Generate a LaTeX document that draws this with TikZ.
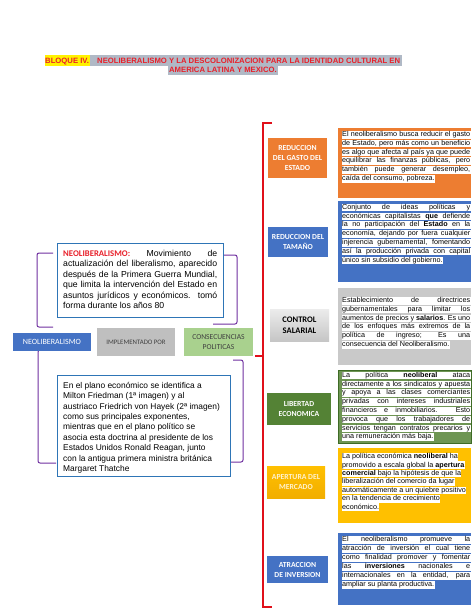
\documentclass[tikz,border=0pt]{standalone}
\usepackage{fontspec}
\setmainfont{Liberation Sans}
\newfontfamily\carlito{Carlito}
\definecolor{orangeC}{HTML}{ED7D31}
\definecolor{blueC}{HTML}{4472C4}
\definecolor{greenD}{HTML}{548235}
\definecolor{greenB}{HTML}{3E6B25}
\definecolor{goldC}{HTML}{FFC000}
\definecolor{goldD}{HTML}{F2AE00}
\definecolor{goldT}{HTML}{FFF2CC}
\definecolor{grayT}{HTML}{C9C9C9}
\definecolor{purpleC}{HTML}{7030A0}
\definecolor{redB}{HTML}{E0101A}
\definecolor{redT}{HTML}{E8202A}
\definecolor{boxBlue}{HTML}{2E75B6}
\definecolor{lgreen}{HTML}{A9D18E}
\definecolor{lgray}{HTML}{BFBFBF}
\definecolor{hlgray}{HTML}{B0B9C6}
\definecolor{darkT}{HTML}{404040}
\newcommand\natsp{\spaceskip=0pt\xspaceskip=0pt\relax}
\newcommand\hlstrut{\rule[-1.7pt]{0pt}{6.4pt}}
\newcommand\jline[1]{\colorbox{white}{\makebox[128pt][s]{\natsp\hlstrut#1}}}
\newcommand\rline[1]{\colorbox{white}{\natsp\hlstrut#1}}
\newcommand\jwide[1]{\makebox[154pt][s]{\natsp#1}}
\setlength\fboxsep{0.3pt}
\lineskiplimit=-5pt
\begin{document}
\begin{tikzpicture}[x=1pt,y=-1pt,
  lbl/.style={inner sep=0pt, align=center, text=white,
    font=\carlito\bfseries\fontsize{7.7}{10}\selectfont},
  tbox/.style={anchor=north west, inner sep=0pt, minimum width=133pt},
  hltext/.style={anchor=north west, inner sep=0pt, text width=129pt, align=left,
    font=\fontsize{7.2}{8.8}\selectfont},
  ttl/.style={inner sep=0pt, text=redT, font=\bfseries\fontsize{7.7}{9}\selectfont},
  pbr/.style={draw=purpleC, line width=1pt, rounded corners=2pt},
  rbr/.style={draw=redB, line width=1.5pt},
  lbox/.style={anchor=north west, inner sep=0pt, draw=boxBlue, line width=1.2pt, fill=white}
]
\useasboundingbox (0,0) rectangle (474,613);
\fill[white] (0,0) rectangle (474,613);

% title
\fill[yellow] (45,55) rectangle (90,65.5);
\fill[hlgray] (90,55) rectangle (402,65.5);
\fill[hlgray] (168,65.5) rectangle (278,75);
\node[ttl, anchor=base west] (ti1) at (45,63) {BLOQUE IV.};
\node[ttl, anchor=base west] (ti2) at (97,63) {NEOLIBERALISMO Y LA DESCOLONIZACION PARA LA IDENTIDAD CULTURAL EN};
\node[ttl, anchor=base] (ti3) at (223,72.8) {AMERICA LATINA Y MEXICO.};

% purple brackets
\draw[pbr] (53,253) -- (37,253) -- (37,327) -- (53,327);
\draw[pbr] (223,255) -- (237,255) -- (237,324) -- (213,324);
\draw[pbr] (50,350) -- (38,350) -- (38,463) -- (56,463);
\draw[pbr] (233,360) -- (243,360) -- (243,462) -- (230,462);

% red bracket
\draw[rbr] (272,123) -- (263,123) -- (263,607) -- (272,607);
\draw[rbr] (255,356) -- (263,356);

% left boxes
\node[lbox, minimum width=166pt, minimum height=74pt] (defbox) at (57,243) {};
\node[anchor=north west, inner sep=0pt, text width=155pt, align=left,
  font=\fontsize{8.7}{10.5}\selectfont] (deftxt) at (63,249) {\noindent\natsp\rule{0pt}{7pt}\jwide{{\carlito\bfseries\color{redT}NEOLIBERALISMO:} Movimiento de}\\
\jwide{actualización del liberalismo, aparecido}\\
\jwide{después de la Primera Guerra Mundial,}\\
\jwide{que limita la intervención del Estado en}\\
\jwide{asuntos jurídicos y económicos. tomó}\\
forma durante los años 80};

\node[lbox, minimum width=173pt, minimum height=101pt] (ecobox) at (57,375) {};
\node[anchor=north west, inner sep=0pt, text width=170pt, align=left,
  font=\fontsize{8.4}{10.4}\selectfont] (ecotxt) at (63,381) {\noindent\natsp\rule{0pt}{7pt}En el plano económico se identifica a\\
Milton Friedman (1ª imagen) y al\\
austriaco Friedrich von Hayek (2ª imagen)\\
como sus principales exponentes,\\
mientras que en el plano político se\\
asocia esta doctrina al presidente de los\\
Estados Unidos Ronald Reagan, junto\\
con la antigua primera ministra británica\\
Margaret Thatche};

\node[inner sep=0pt, fill=blueC, minimum width=78pt, minimum height=18pt, text=white,
  font=\carlito\fontsize{8}{10}\selectfont] (neo) at (52,342) {NEOLIBERALISMO};
\node[inner sep=0pt, fill=lgray, minimum width=78pt, minimum height=28pt, text=darkT,
  font=\carlito\fontsize{6.8}{9}\selectfont] (impl) at (136,342) {IMPLEMENTADO POR};
\node[inner sep=0pt, fill=lgreen, minimum width=69pt, minimum height=28pt, text=darkT, align=center,
  font=\carlito\fontsize{7.6}{10}\selectfont] (cons) at (218.5,342) {CONSECUENCIAS\\POLITICAS};

% right label boxes
\node[lbl, fill=orangeC, minimum width=59pt, minimum height=40pt] (l1) at (297.5,158) {REDUCCION\\DEL GASTO DEL\\ESTADO};
\node[lbl, fill=blueC, minimum width=60pt, minimum height=30pt] (l2) at (298,242) {REDUCCION DEL\\TAMAÑO};
\node[lbl, top color=gray!15, bottom color=gray!45, minimum width=59pt, minimum height=32pt, text=black,
  font=\carlito\bfseries\fontsize{8.5}{11.5}\selectfont] (l3) at (299.5,325) {CONTROL\\SALARIAL};
\node[lbl, fill=greenD, minimum width=64pt, minimum height=32pt] (l4) at (299,409) {LIBERTAD\\ECONOMICA};
\node[lbl, top color=goldC, bottom color=goldD, minimum width=58pt, minimum height=32pt,
  text=goldT] (l5) at (296,482) {APERTURA DEL\\MERCADO};
\node[lbl, fill=blueC, minimum width=61pt, minimum height=27pt] (l6) at (297.5,569.5) {ATRACCION\\DE INVERSION};

% right text boxes
\node[tbox, fill=orangeC, minimum height=70pt] (b1) at (338,128) {};
\node[tbox, fill=blueC, minimum height=81pt] (b2) at (338,201) {};
\node[tbox, fill=grayT, minimum height=77pt] (b3) at (338,288) {};
\node[tbox, fill=greenD!85!white, draw=greenB, line width=1pt, minimum height=73pt] (b4) at (338,370) {};
\node[tbox, fill=goldC, minimum height=75pt] (b5) at (338,448) {};
\node[tbox, fill=blueC, minimum height=72pt] (b6) at (338,533) {};

\node[hltext] (x1) at (341.7,130.8) {\noindent\jline{El neoliberalismo busca reducir el gasto}\\
\jline{de Estado, pero más como un beneficio}\\
\jline{es algo que afecta al país ya que puede}\\
\jline{equilibrar las finanzas públicas, pero}\\
\jline{también puede generar desempleo,}\\
\rline{caída del consumo, pobreza.}};

\node[hltext] (x2) at (341.7,203.5) {\noindent\jline{Conjunto de ideas políticas y}\\
\jline{económicas capitalistas \textbf{que} defiende}\\
\jline{la no participación del \textbf{Estado} en la}\\
\jline{economía, dejando por fuera cualquier}\\
\jline{injerencia gubernamental, fomentando}\\
\jline{así la producción privada con capital}\\
\rline{único sin subsidio del gobierno.}};

\node[hltext] (x3) at (341.7,296.8) {\noindent\jline{Establecimiento de directrices}\\
\jline{gubernamentales para limitar los}\\
\jline{aumentos de precios y \textbf{salarios}. Es uno}\\
\jline{de los enfoques más extremos de la}\\
\jline{política de ingreso; Es una}\\
\rline{consecuencia del Neoliberalismo.}};

\node[hltext] (x4) at (341.7,371.5) {\noindent\jline{La política \textbf{neoliberal} ataca}\\
\jline{directamente a los sindicatos y apuesta}\\
\jline{y apoya a las clases comerciantes}\\
\jline{privadas con intereses industriales}\\
\jline{financieros e inmobiliarios. Esto}\\
\jline{provoca que los trabajadores de}\\
\jline{servicios tengan contratos precarios y}\\
\rline{una remuneración más baja.}};

\node[hltext, font=\fontsize{7.2}{8.4}\selectfont] (x5) at (341.7,452.8) {\noindent\rline{La política económica \textbf{neoliberal} ha}\\
\rline{promovido a escala global la \textbf{apertura}}\\
\rline{\textbf{comercial} bajo la hipótesis de que la}\\
\rline{liberalización del comercio da lugar}\\
\rline{automáticamente a un quiebre positivo}\\
\rline{en la tendencia de crecimiento}\\
\rline{económico.}};

\node[hltext, font=\fontsize{7.2}{9}\selectfont] (x6) at (341.7,535.8) {\noindent\jline{El neoliberalismo promueve la}\\
\jline{atracción de inversión el cual tiene}\\
\jline{como finalidad promover y fomentar}\\
\jline{las \textbf{inversiones} nacionales e}\\
\jline{internacionales en la entidad, para}\\
\rline{ampliar su planta productiva.}};
\end{tikzpicture}
\end{document}
